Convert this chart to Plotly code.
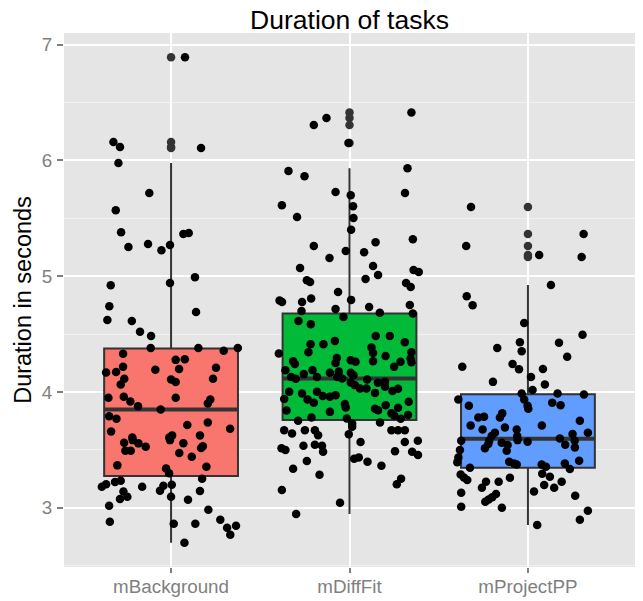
import plotly.graph_objects as go

categories = ["mBackground", "mDiffFit", "mProjectPP"]
fill_colors = ["#F8766D", "#00BA38", "#619CFF"]

# ---- mBackground durations (s) and horizontal jitter (category units)
bg_y = [6.890, 6.158, 6.115, 6.106, 5.977, 5.718, 5.569, 5.379, 5.252, 5.278,
        5.224, 5.269, 5.364, 5.373, 4.921, 4.941, 4.991, 4.740, 4.691, 4.622,
        4.613, 4.519, 4.484, 4.380, 4.380, 4.355, 4.380, 4.329, 4.277, 4.283,
        4.217, 4.168, 4.173, 4.191, 4.199, 4.208, 4.113, 4.065, 4.108, 4.085,
        4.113, 3.949, 3.958, 3.918, 3.877, 3.949, 3.935, 3.901, 3.849, 3.791,
        3.768, 3.714, 3.737, 3.682, 3.659, 3.607, 3.625, 3.607, 3.625, 3.561,
        3.584, 3.556, 3.526, 3.584, 3.558, 3.532, 3.515, 3.492, 3.492, 3.472,
        3.440, 3.366, 3.340, 3.297, 3.354, 3.250, 3.181, 3.202, 3.222, 3.233,
        3.181, 3.147, 3.190, 3.198, 3.141, 3.075, 3.095, 3.095, 3.069, 3.144,
        3.017, 2.983, 2.879, 2.862, 2.862, 2.896, 2.827, 2.845, 2.767, 2.698]
bg_jit = [0.078, -0.323, -0.286, 0.168, -0.295, -0.122, -0.310, -0.280, -0.239, -0.129,
          -0.054, -0.006, 0.069, 0.099, -0.338, -0.006, 0.134, -0.346, 0.140, -0.357,
          -0.220, -0.174, -0.112, -0.114, 0.153, 0.295, 0.374, -0.269, 0.026, 0.077,
          -0.269, -0.364, -0.308, -0.088, 0.045, 0.252, -0.262, -0.282, 0.000, 0.026,
          0.235, -0.351, -0.265, -0.228, -0.185, 0.026, 0.220, 0.206, -0.058, -0.347,
          -0.306, 0.091, 0.206, 0.331, -0.336, -0.217, 0.006, -0.010, 0.162, -0.263,
          -0.215, -0.183, -0.142, -0.006, 0.069, 0.178, 0.168, -0.256, -0.226, 0.046,
          0.116, -0.301, -0.028, -0.011, 0.198, 0.174, -0.388, -0.364, -0.314, -0.282,
          -0.162, -0.062, -0.043, 0.004, -0.267, -0.286, -0.245, 0.000, 0.095, 0.162,
          -0.347, 0.209, -0.343, 0.015, 0.136, 0.276, 0.314, 0.364, 0.332, 0.075]

# ---- mDiffFit
df_y = [6.414, 6.365, 6.305, 6.149, 5.908, 5.862, 5.931, 5.727, 5.698, 5.718,
        5.612, 5.603, 5.511, 5.502, 5.400, 5.318, 5.261, 5.293, 5.217, 5.206,
        5.157, 5.071, 5.088, 5.054, 5.036, 5.010, 4.965, 4.950, 4.976, 4.941,
        4.907, 4.864, 4.789, 4.777, 4.777, 4.807, 4.795, 4.717, 4.734, 4.683,
        4.751, 4.677, 4.700, 4.648, 4.613, 4.585, 4.484, 4.484, 4.441, 4.412,
        4.412, 4.430, 4.384, 4.343, 4.337, 4.332, 4.343, 4.311, 4.289, 4.294,
        4.266, 4.242, 4.251, 4.274, 4.260, 4.266, 4.260, 4.257, 4.217, 4.188,
        4.188, 4.154, 4.165, 4.177, 4.130, 4.130, 4.113, 4.130, 4.117, 4.165,
        4.145, 4.082, 4.059, 4.030, 4.030, 4.108, 4.079, 4.087, 4.044, 4.009,
        4.027, 4.001, 3.992, 3.987, 4.001, 3.966, 3.958, 3.972, 3.940, 3.935,
        3.906, 3.895, 3.866, 3.915, 3.886, 3.863, 3.840, 3.828, 3.854, 3.843,
        3.815, 3.797, 3.800, 3.771, 3.780, 3.751, 3.768, 3.737, 3.728, 3.699,
        3.670, 3.642, 3.670, 3.670, 3.627, 3.634, 3.670, 3.670, 3.670, 3.567,
        3.567, 3.578, 3.513, 3.498, 3.536, 3.544, 3.536, 3.483, 3.489, 3.483,
        3.455, 3.423, 3.435, 3.397, 3.362, 3.403, 3.336, 3.285, 3.250, 3.202,
        3.153, 3.043, 2.946]
df_jit = [0.347, -0.129, -0.200, -0.006, -0.342, -0.252, 0.325, -0.078, 0.007, 0.311,
          -0.379, 0.020, -0.294, 0.022, 0.009, 0.355, -0.200, 0.146, -0.021, 0.082,
          -0.112, -0.277, 0.132, 0.359, 0.388, 0.160, -0.239, -0.221, 0.090, 0.317,
          0.343, -0.064, -0.392, -0.378, -0.266, -0.215, 0.009, -0.078, 0.110, 0.170,
          0.338, 0.355, -0.269, -0.034, -0.286, -0.217, 0.147, 0.226, -0.082, -0.146,
          -0.218, 0.310, 0.123, -0.230, 0.132, -0.396, 0.347, 0.202, 0.342, -0.071,
          -0.316, -0.306, -0.078, 0.007, 0.034, 0.132, 0.286, 0.347, 0.250, -0.359,
          -0.207, -0.256, -0.110, -0.060, -0.182, -0.327, -0.301, -0.069, -0.041, 0.007,
          0.022, 0.007, 0.030, 0.059, 0.095, 0.099, 0.159, 0.199, 0.199, 0.241,
          0.272, -0.338, 0.143, -0.266, -0.182, -0.150, -0.110, -0.078, -0.366, -0.235,
          -0.200, -0.026, -0.021, 0.332, 0.203, 0.272, -0.353, -0.110, 0.143, 0.160,
          0.235, 0.250, 0.328, -0.015, -0.213, -0.288, 0.287, 0.171, 0.015, 0.015,
          -0.366, -0.322, -0.250, -0.194, -0.176, -0.004, 0.235, 0.272, 0.310, 0.062,
          0.310, 0.383, -0.381, -0.359, -0.258, -0.194, -0.154, -0.148, 0.255, 0.351,
          0.384, 0.026, 0.052, 0.101, 0.179, -0.239, -0.316, -0.168, 0.289, 0.265,
          -0.379, -0.053, -0.299]

# ---- mProjectPP
pp_y = [5.597, 5.364, 5.261, 5.183, 5.166, 4.924, 4.827, 4.749, 4.596, 4.493,
        4.430, 4.424, 4.380, 4.352, 4.303, 4.217, 4.242, 4.197, 4.199, 4.130,
        4.087, 4.065, 4.016, 3.987, 3.987, 3.978, 3.935, 3.935, 3.880, 3.880,
        3.854, 3.906, 3.886, 3.780, 3.785, 3.780, 3.815, 3.751, 3.711,
        3.676, 3.647, 3.619, 3.694, 3.676, 3.619, 3.584, 3.711,
        3.647, 3.636, 3.578, 3.521, 3.599, 3.544, 3.578, 3.498, 3.435, 3.392,
        3.513, 3.550, 3.578, 3.561, 3.541, 3.492, 3.569, 3.397, 3.374, 3.383,
        3.345, 3.374, 3.354, 3.383, 3.334, 3.405, 3.288, 3.262, 3.239, 3.224,
        3.224, 3.259, 3.293, 3.267, 3.196, 3.173, 3.224, 3.173, 3.129, 3.118,
        3.090, 3.072, 3.052, 3.141, 3.104, 3.009, 3.000, 2.974, 2.896, 2.851]
pp_jit = [-0.319, 0.312, -0.346, 0.063, 0.301, 0.129, -0.343, -0.310, -0.021, 0.306,
          -0.045, 0.174, -0.172, -0.035, 0.220, -0.368, -0.086, -0.050, 0.084, 0.017,
          -0.196, 0.095, 0.026, -0.035, 0.166, 0.314, -0.390, -0.021, -0.331, -0.002,
          0.002, 0.136, 0.183, -0.278, -0.246, -0.157, -0.144, 0.291, -0.321,
          -0.254, -0.185, -0.203, -0.129, -0.063, -0.060, -0.058, 0.078,
          0.336, 0.250, 0.262, 0.263, 0.179, 0.209, -0.374, -0.381, -0.390, -0.396,
          -0.241, -0.222, -0.217, -0.147, -0.114, -0.119, -0.002, -0.105, -0.063, -0.078,
          -0.325, 0.077, 0.101, 0.207, 0.235, 0.287, -0.377, -0.359, -0.340, -0.235,
          -0.164, -0.101, 0.080, 0.123, 0.091, 0.147, 0.189, -0.258, -0.374, -0.179,
          -0.200, -0.220, -0.239, 0.034, 0.265, -0.374, -0.146, 0.336, 0.291, 0.052]

# box statistics
q1 = [3.274, 3.757, 3.345]
median = [3.849, 4.116, 3.595]
q3 = [4.375, 4.677, 3.981]

values = [bg_y, df_y, pp_y]
jitters = [bg_jit, df_jit, pp_jit]

FONT = "Liberation Sans, Arial, Helvetica, sans-serif"
BOX_W = 0.75

fig = go.Figure()

for i, cat in enumerate(categories):
    vals = values[i]
    iqr = q3[i] - q1[i]
    hi_lim = q3[i] + 1.5 * iqr
    lo_lim = q1[i] - 1.5 * iqr
    upper = max(v for v in vals if v <= hi_lim)
    lower = min(v for v in vals if v >= lo_lim)
    outl = [v for v in vals if v > hi_lim or v < lo_lim]

    fig.add_trace(go.Box(
        x=[i], q1=[q1[i]], median=[median[i]], q3=[q3[i]],
        lowerfence=[lower], upperfence=[upper],
        width=BOX_W, whiskerwidth=0, boxpoints=False,
        fillcolor=fill_colors[i],
        line=dict(color="#333333", width=2),
        showlegend=False, hoverinfo="skip",
    ))
    # thicker median bar (ggplot fatten)
    fig.add_trace(go.Scatter(
        x=[i - BOX_W / 2, i + BOX_W / 2], y=[median[i], median[i]],
        mode="lines", line=dict(color="#333333", width=4),
        showlegend=False, hoverinfo="skip",
    ))
    # outliers at the box centre
    if outl:
        fig.add_trace(go.Scatter(
            x=[i] * len(outl), y=outl, mode="markers",
            marker=dict(color="#333333", size=8.5, line=dict(width=0)),
            showlegend=False, hoverinfo="skip",
        ))

for i, cat in enumerate(categories):
    fig.add_trace(go.Scatter(
        x=[i + j for j in jitters[i]], y=values[i], mode="markers",
        marker=dict(color="black", size=8.5, line=dict(width=0)),
        showlegend=False, name=cat,
    ))

all_vals = bg_y + df_y + pp_y
ymin, ymax = min(all_vals), max(all_vals)
pad = 0.05 * (ymax - ymin)

W, H = 635, 593  # page body has an 8px margin

fig.update_layout(
    width=W, height=H,
    margin=dict(l=56, r=8, t=25, b=34, autoexpand=False),
    paper_bgcolor="white", plot_bgcolor="#E5E5E5",
    font=dict(family=FONT, color="black"),
    title=dict(text="Duration of tasks", x=0.5, xref="paper", xanchor="center",
               y=1 - 2 / H, yref="container", yanchor="top",
               pad=dict(t=0, b=0),
               font=dict(size=26.5, color="black", family=FONT)),
    showlegend=False,
    xaxis=dict(range=[-0.6, 2.6], tickvals=[0, 1, 2], ticktext=categories,
               showgrid=True, gridcolor="white", gridwidth=2, zeroline=False,
               ticks="outside", ticklen=5, tickwidth=1.5, tickcolor="#7F7F7F",
               tickfont=dict(size=18.8, color="#7F7F7F", family=FONT),
               ticklabelstandoff=-3, automargin=False,
               showline=False, fixedrange=True),
    yaxis=dict(range=[ymin - pad, ymax + pad], tickvals=[3, 4, 5, 6, 7],
               showgrid=True, gridcolor="white", gridwidth=2, zeroline=False,
               ticks="outside", ticklen=6, tickwidth=1.5, tickcolor="#7F7F7F",
               tickfont=dict(size=18.8, color="#7F7F7F", family=FONT),
               ticklabelstandoff=1, automargin=False,
               minor=dict(tick0=0, dtick=0.5, showgrid=True, gridcolor="#F2F2F2",
                          gridwidth=1, ticks=""),
               title=dict(text="Duration in seconds", standoff=3,
                          font=dict(size=23.5, color="black", family=FONT)),
               showline=False, fixedrange=True),
)

fig.write_html("out.html")
